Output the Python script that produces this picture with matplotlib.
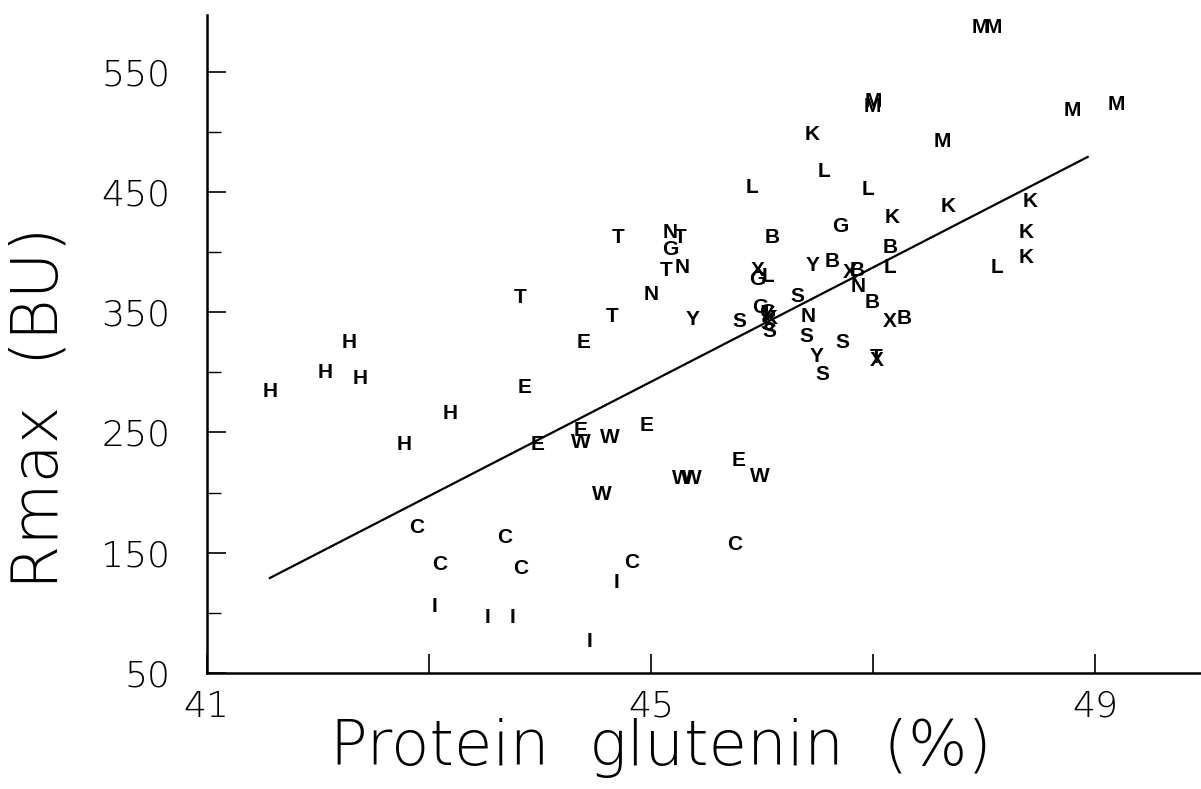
import numpy as np
import matplotlib.pyplot as plt

# cultivar code letters, protein glutenin (%) and Rmax (BU)
labels = ["H", "H", "H", "H", "H", "H",
          "T", "T", "T", "T", "T", "T",
          "E", "E", "E", "E", "E", "E",
          "W", "W", "W", "W", "W", "W",
          "C", "C", "C", "C", "C", "C",
          "I", "I", "I", "I", "I",
          "N", "N", "N", "N", "N",
          "G", "G", "G", "G", "G",
          "Y", "Y", "Y", "Y",
          "S", "S", "S", "S", "S", "S", "S",
          "X", "X", "X", "X",
          "B", "B", "B", "B", "B", "B",
          "L", "L", "L", "L", "L", "L",
          "K", "K", "K", "K", "K", "K", "K",
          "M", "M", "M", "M", "M", "M", "M"]
glutenin = [41.57, 42.07, 42.28, 42.38, 42.78, 43.19,
            43.82, 44.70, 45.26, 45.14, 44.65, 47.03,
            44.39, 43.86, 43.98, 44.37, 44.96, 45.79,
            44.37, 44.63, 44.56, 45.28, 45.37, 45.98,
            42.89, 43.68, 43.10, 43.83, 44.83, 45.75,
            43.05, 43.53, 43.75, 44.45, 44.69,
            45.17, 45.28, 45.00, 46.41, 46.86,
            45.17, 45.96, 45.98, 46.70, 46.05,
            45.37, 46.49, 46.45, 46.05,
            45.80, 46.07, 46.32, 46.40, 46.54, 46.72, 46.05,
            45.96, 46.79, 47.15, 47.03,
            46.09, 46.63, 46.86, 46.99, 47.15, 47.28,
            45.91, 46.56, 46.95, 47.15, 48.11, 46.05,
            46.45, 47.17, 47.67, 48.41, 48.38, 48.38, 46.07,
            47.96, 48.08, 46.99, 47.00, 47.62, 48.79, 49.19]
rmax = [284, 300, 325, 295, 240, 266,
        362, 412, 412, 385, 346, 312,
        325, 287, 240, 252, 256, 227,
        242, 246, 198, 212, 212, 213,
        171, 163, 140, 137, 142, 157,
        105, 96, 96, 76, 125,
        416, 387, 365, 346, 371,
        402, 377, 354, 421, 350,
        344, 313, 389, 348,
        342, 334, 363, 330, 298, 325, 340,
        385, 383, 342, 310,
        412, 392, 385, 358, 404, 345,
        454, 467, 452, 387, 387, 380,
        498, 429, 438, 442, 416, 395, 345,
        587, 587, 521, 525, 492, 518, 523]

# fitted regression line
fit_x = [41.57, 48.93]
fit_y = [129, 479]

plt.rcParams['font.family'] = ['DejaVu Sans']

fig = plt.figure(figsize=(12.01, 7.89), dpi=100)
ax = fig.add_axes([0.172, 0.147, 0.828, 0.834])

for lab, gx, ry in zip(labels, glutenin, rmax):
    ax.text(gx, ry, lab, fontsize=15, family="Liberation Sans", fontweight="bold",
            ha="center", va="center", color="black")

ax.plot(fit_x, fit_y, color="black", lw=1.6)

ax.set_xlim(41, 49.95)
ax.set_ylim(50, 597)
ax.set_xticks([41, 43, 45, 47, 49])
ax.set_xticklabels(["41", "", "45", "", "49"])
ax.set_yticks([50, 150, 250, 350, 450, 550])
ax.set_yticks([100, 200, 300, 400, 500], minor=True)
ax.tick_params(direction="in", length=14, width=1.2, labelsize=26,
               labelcolor="black")
ax.tick_params(axis="x", pad=12)
ax.tick_params(axis="y", pad=26)
ax.tick_params(axis="y", which="minor", direction="in", length=10, width=1.0)
for lbl in ax.get_xticklabels() + ax.get_yticklabels():
    lbl.set_fontweight("light")

ax.spines["top"].set_visible(False)
ax.spines["right"].set_visible(False)
ax.spines["left"].set_linewidth(1.8)
ax.spines["bottom"].set_linewidth(1.8)

fig.text(0.55, 0.03, "Protein  glutenin  (%)", fontsize=45, fontweight="light",
         ha="center", va="baseline")
fig.text(0.033, 0.483, "Rmax  (BU)", fontsize=46, fontweight="light",
         rotation=90, ha="center", va="center")

fig.savefig("out.png", dpi=100)
